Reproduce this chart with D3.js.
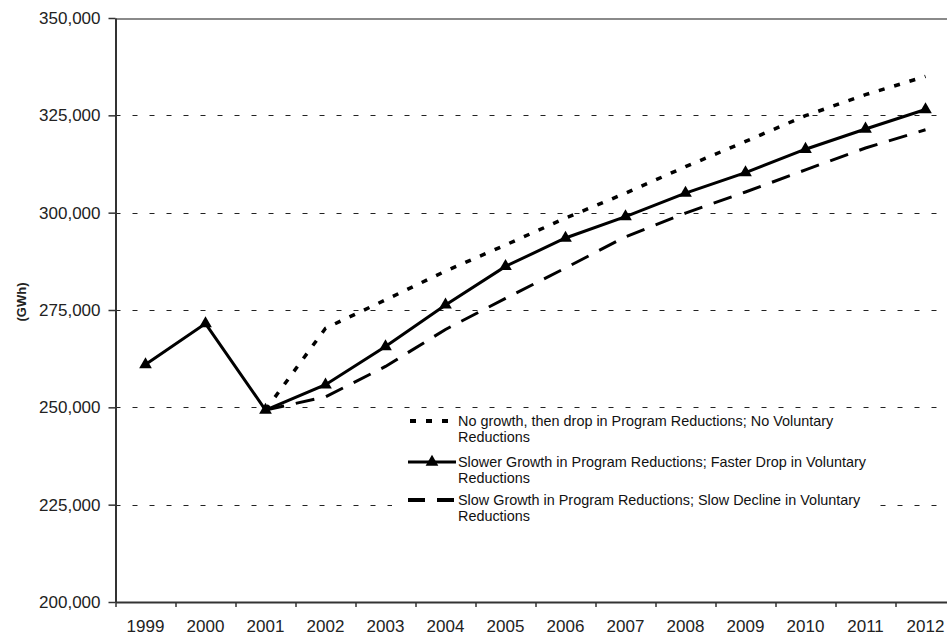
<!DOCTYPE html>
<html>
<head>
<meta charset="utf-8">
<script src="https://cdn.jsdelivr.net/npm/d3@7"></script>
<style>
  html, body { margin: 0; padding: 0; background: #fff; }
  svg { display: block; font-family: "Liberation Sans", Arial, sans-serif; }
</style>
</head>
<body>
<svg id="chart" width="947" height="637"></svg>
<script>
// ---- data ----
const years = ["1999","2000","2001","2002","2003","2004","2005","2006","2007","2008","2009","2010","2011","2012"];
const noGrowth = [null, null, 249300, 270300, 277600, 285000, 291700, 298600, 305000, 311800, 318300, 324900, 330300, 335000];
const slowerGrowth = [261000, 271500, 249300, 255800, 265600, 276300, 286200, 293500, 299000, 305000, 310300, 316300, 321500, 326500];
const slowGrowth = [null, null, 249300, 252700, 260500, 270000, 278000, 285800, 293800, 299900, 305300, 311000, 316600, 321300];
const yTicks = [200000, 225000, 250000, 275000, 300000, 325000, 350000];
const gridValues = [225000, 250000, 275000, 300000, 325000];
const seriesNames = [
  ["No growth, then drop in Program Reductions; No Voluntary", "Reductions"],
  ["Slower Growth in Program Reductions; Faster Drop in Voluntary", "Reductions"],
  ["Slow Growth in Program Reductions; Slow Decline in Voluntary", "Reductions"]
];

const svg = d3.select("#chart");
const pLeft = 115.5, pRight = 955.5, pTop = 18, pBottom = 602;

const x = d3.scaleBand().domain(years).range([pLeft, pRight]).padding(0);
const xb = d3.scaleLinear().domain([0, years.length]).range([pLeft, pRight]);
const y = d3.scaleLinear().domain([200000, 350000]).range([pBottom, pTop]);
const cx = d => x(d) + x.bandwidth() / 2;

// gridlines
svg.append("g").selectAll("line").data(gridValues).join("line")
  .attr("x1", pLeft).attr("x2", 947)
  .attr("y1", d => Math.round(y(d)) + 0.5).attr("y2", d => Math.round(y(d)) + 0.5)
  .attr("stroke", "#222").attr("stroke-width", 1)
  .attr("stroke-dasharray", "5,12");

// top border
svg.append("line").attr("x1", pLeft).attr("x2", 947)
  .attr("y1", y(350000) + 1).attr("y2", y(350000) + 1)
  .attr("stroke", "#8a8a8a").attr("stroke-width", 2);

// legend background box
const legend = svg.append("g");
legend.append("rect").attr("x", 392).attr("y", 410).attr("width", 488).attr("height", 128).attr("fill", "#fff");

// y axis
const yAxis = svg.append("g").attr("transform", `translate(${pLeft},0)`)
  .call(d3.axisLeft(y).tickValues(yTicks).tickSize(7).tickSizeOuter(0).tickPadding(8).tickFormat(d3.format(",")));
yAxis.select(".domain").attr("stroke", "#333").attr("stroke-width", 2);
yAxis.selectAll(".tick line").attr("stroke", "#333").attr("stroke-width", 1.5);
yAxis.selectAll(".tick text").attr("font-size", 17).attr("fill", "#222")
  .attr("font-family", "Liberation Sans, Arial, sans-serif");

// x axis: tick marks at category boundaries
const xTicks = svg.append("g").attr("transform", `translate(0,${pBottom})`)
  .call(d3.axisBottom(xb).tickValues(d3.range(0, years.length + 1)).tickSize(5).tickSizeOuter(0).tickFormat(""));
xTicks.select(".domain").attr("stroke", "#333").attr("stroke-width", 2);
xTicks.selectAll(".tick line").attr("stroke", "#333").attr("stroke-width", 1.5);

// x axis labels at category centers
const xLab = svg.append("g").attr("transform", `translate(0,${pBottom})`)
  .call(d3.axisBottom(x).tickSize(0).tickPadding(18));
xLab.select(".domain").remove();
xLab.selectAll(".tick text").attr("font-size", 17).attr("fill", "#222")
  .attr("font-family", "Liberation Sans, Arial, sans-serif");

// y axis title
svg.append("text").attr("transform", `translate(26,302) rotate(-90)`)
  .attr("text-anchor", "middle").attr("font-size", 13).attr("font-weight", "bold")
  .attr("fill", "#222").text("(GWh)");

// lines
const line = d3.line().defined(d => d.v != null).x(d => cx(d.year)).y(d => y(d.v));
const toPts = arr => years.map((yr, i) => ({ year: yr, v: arr[i] }));

svg.append("path").datum(toPts(slowGrowth)).attr("d", line)
  .attr("fill", "none").attr("stroke", "#000").attr("stroke-width", 3)
  .attr("stroke-dasharray", "19,12");
svg.append("path").datum(toPts(noGrowth)).attr("d", line)
  .attr("fill", "none").attr("stroke", "#000").attr("stroke-width", 3.5)
  .attr("stroke-dasharray", "6,10");
svg.append("path").datum(toPts(slowerGrowth)).attr("d", line)
  .attr("fill", "none").attr("stroke", "#000").attr("stroke-width", 3);

const tri = d3.symbol().type(d3.symbolTriangle).size(70);
svg.append("g").selectAll("path").data(toPts(slowerGrowth)).join("path")
  .attr("d", tri).attr("fill", "#000")
  .attr("transform", d => `translate(${cx(d.year)},${y(d.v)})`);

// legend entries
const rows = [421, 462, 500];
const styles = [
  { dash: "6,10", width: 4, x1: 410, x2: 450, marker: false },
  { dash: null, width: 3, x1: 408, x2: 456, marker: true },
  { dash: "17,12", width: 4, x1: 408, x2: 456, marker: false }
];
rows.forEach((ry, i) => {
  const s = styles[i];
  const l = legend.append("line").attr("x1", s.x1).attr("x2", s.x2).attr("y1", ry).attr("y2", ry)
    .attr("stroke", "#000").attr("stroke-width", s.width);
  if (s.dash) l.attr("stroke-dasharray", s.dash);
  if (s.marker) legend.append("path").attr("d", tri).attr("fill", "#000")
    .attr("transform", `translate(432,${ry})`);
  const t = legend.append("text").attr("x", 458).attr("y", ry).attr("font-size", 14.4)
    .attr("fill", "#111").attr("dominant-baseline", "central");
  t.append("tspan").attr("x", 458).attr("dy", 0).text(seriesNames[i][0]);
  t.append("tspan").attr("x", 458).attr("dy", 16).text(seriesNames[i][1]);
});
</script>
</body>
</html>
